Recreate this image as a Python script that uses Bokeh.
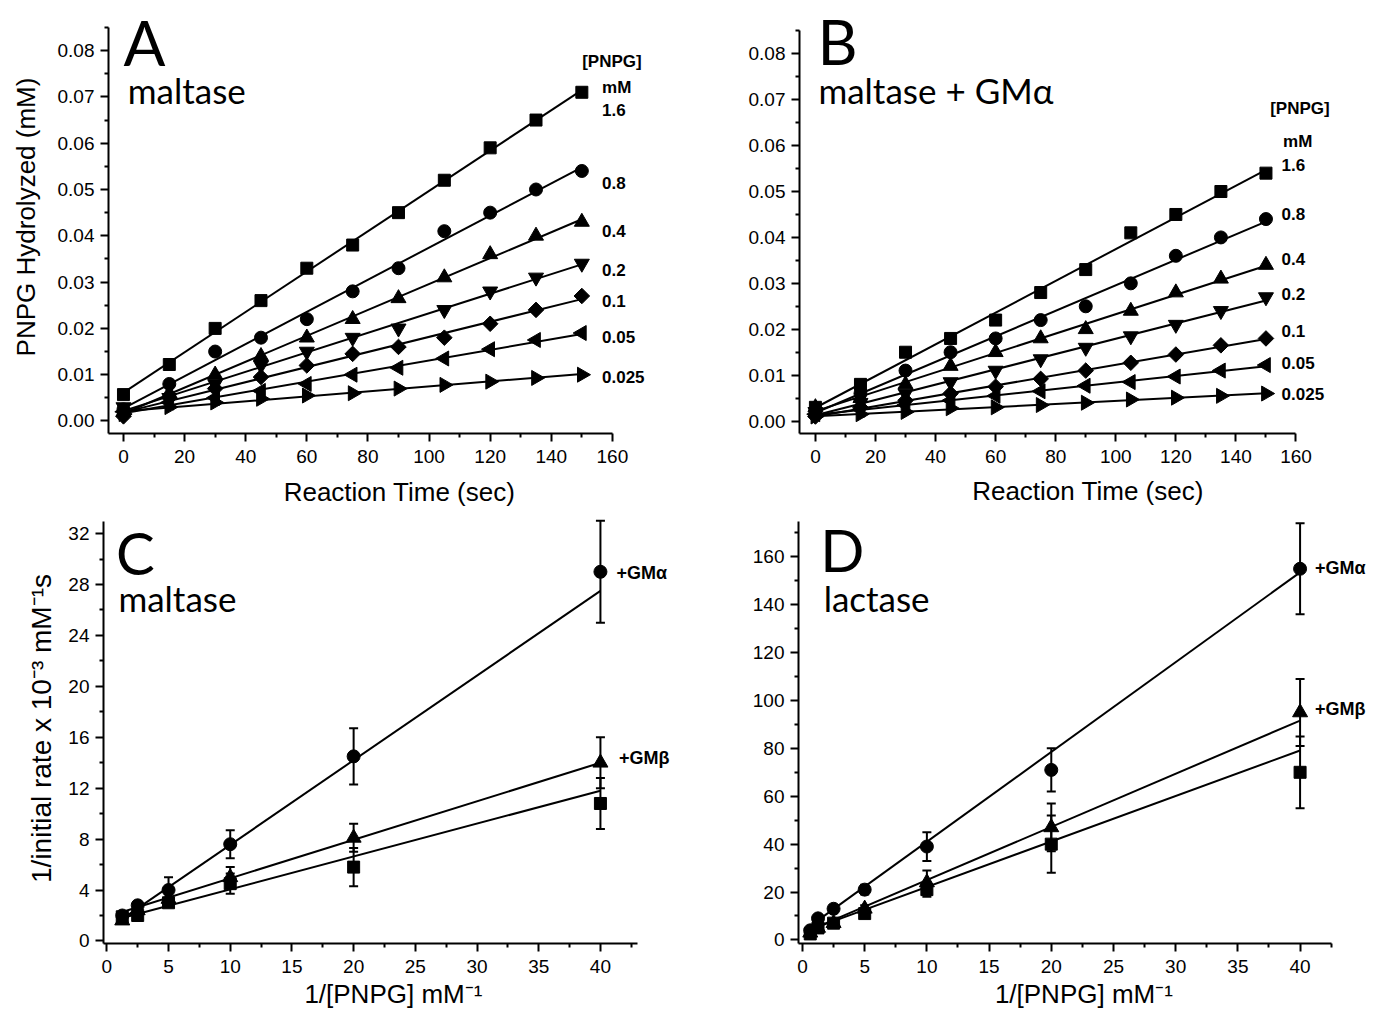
import numpy as np
from bokeh.plotting import figure
from bokeh.models import (Range1d, FixedTicker, NumeralTickFormatter, Label,
                          Whisker, TeeHead, ColumnDataSource, LinearAxis)
from bokeh.layouts import row, column
from bokeh.embed import file_html
from bokeh.resources import INLINE

# ---------------- data ----------------
time_s = [0, 15, 30, 45, 60, 75, 90, 105, 120, 135, 150]
pnpg_mM = ["1.6", "0.8", "0.4", "0.2", "0.1", "0.05", "0.025"]

# Panel A: maltase (PNPG hydrolyzed, mM)
a_16 = [0.0057, 0.0122, 0.0200, 0.0260, 0.0330, 0.0380, 0.0450, 0.0520, 0.0590, 0.0650, 0.0710]
a_08 = [0.0025, 0.0080, 0.0150, 0.0180, 0.0220, 0.0280, 0.0330, 0.0410, 0.0450, 0.0500, 0.0540]
a_04 = [0.0020, 0.0060, 0.0100, 0.0140, 0.0180, 0.0220, 0.0265, 0.0310, 0.0360, 0.0400, 0.0430]
a_02 = [0.0030, 0.0050, 0.0080, 0.0120, 0.0150, 0.0180, 0.0200, 0.0240, 0.0280, 0.0310, 0.0340]
a_01 = [0.0010, 0.0050, 0.0070, 0.0095, 0.0120, 0.0145, 0.0160, 0.0180, 0.0210, 0.0240, 0.0270]
a_005 = [0.0020, 0.0040, 0.0050, 0.0065, 0.0080, 0.0100, 0.0115, 0.0135, 0.0155, 0.0175, 0.0190]
a_0025 = [0.0015, 0.0030, 0.0040, 0.0048, 0.0055, 0.0060, 0.0070, 0.0078, 0.0085, 0.0093, 0.0100]

# Panel B: maltase + GM-alpha
b_16 = [0.0030, 0.0080, 0.0150, 0.0180, 0.0220, 0.0280, 0.0330, 0.0410, 0.0450, 0.0500, 0.0540]
b_08 = [0.0020, 0.0060, 0.0110, 0.0150, 0.0180, 0.0220, 0.0250, 0.0300, 0.0360, 0.0400, 0.0440]
b_04 = [0.0030, 0.0050, 0.0080, 0.0120, 0.0150, 0.0180, 0.0200, 0.0240, 0.0280, 0.0310, 0.0340]
b_02 = [0.0020, 0.0040, 0.0060, 0.0085, 0.0110, 0.0135, 0.0160, 0.0185, 0.0210, 0.0240, 0.0270]
b_01 = [0.0010, 0.0030, 0.0045, 0.0060, 0.0075, 0.0092, 0.0110, 0.0127, 0.0145, 0.0165, 0.0180]
b_005 = [0.0015, 0.0025, 0.0035, 0.0045, 0.0055, 0.0065, 0.0077, 0.0085, 0.0097, 0.0110, 0.0122]
b_0025 = [0.0010, 0.0015, 0.0020, 0.0028, 0.0030, 0.0035, 0.0040, 0.0047, 0.0051, 0.0055, 0.0060]

# Panel C: maltase, Lineweaver-Burk
c_x = [1.25, 2.5, 5, 10, 20, 40]
c_gma = [2.0, 2.8, 4.0, 7.6, 14.5, 29.0]
c_gma_err = [0.2, 0.3, 1.0, 1.1, 2.2, 4.0]
c_gmb = [1.6, 2.4, 3.3, 5.0, 8.1, 14.0]
c_gmb_err = [0.2, 0.2, 0.4, 0.8, 1.1, 2.0]
c_ctrl = [1.9, 2.0, 3.0, 4.5, 5.8, 10.8]
c_ctrl_err = [0.2, 0.2, 0.3, 0.8, 1.5, 2.0]
c_fit_slope = [0.665, 0.3025, 0.258]
c_fit_intercept = [0.9, 1.9, 1.48]

# Panel D: lactase, Lineweaver-Burk
d_x = [0.625, 1.25, 2.5, 5, 10, 20, 40]
d_gma = [4, 9, 13, 21, 39, 71, 155]
d_gma_err = [1, 1, 1, 2, 6, 9, 19]
d_gmb = [3, 5, 7, 13, 24, 47, 95]
d_gmb_err = [1, 1, 1, 1.5, 5, 10, 14]
d_ctrl = [2.5, 5, 7, 11, 21, 40, 70]
d_ctrl_err = [1, 1, 1, 1, 3, 12, 15]
d_fit_slope = [3.75, 2.22, 1.9]
d_fit_intercept = [3.5, 2.8, 3.1]

# ticks
ab_xticks = [0, 20, 40, 60, 80, 100, 120, 140, 160]
ab_xminor = [10, 30, 50, 70, 90, 110, 130, 150]
ab_yticks = [0.0, 0.01, 0.02, 0.03, 0.04, 0.05, 0.06, 0.07, 0.08]
ab_yminor = [0.005, 0.015, 0.025, 0.035, 0.045, 0.055, 0.065, 0.075, 0.085]
cd_xticks = [0, 5, 10, 15, 20, 25, 30, 35, 40]
cd_xminor = [2.5, 7.5, 12.5, 17.5, 22.5, 27.5, 32.5, 37.5, 42.5]
c_yticks = [0, 4, 8, 12, 16, 20, 24, 28, 32]
c_yminor = [2, 6, 10, 14, 18, 22, 26, 30]
d_yticks = [0, 20, 40, 60, 80, 100, 120, 140, 160]
d_yminor = [10, 30, 50, 70, 90, 110, 130, 150, 170]

# ---------------- styling ----------------
TICK_FONT = "Liberation Sans"
LETTER_FONT = "Lato"
markers = ["square", "circle", "triangle", "inverted_triangle", "square", "triangle", "triangle"]
angles = [0, 0, 0, 0, np.pi / 4, np.pi / 2, -np.pi / 2]
sizes = [12, 13, 15, 15, 11, 15, 15]


def make_fig(canvas, frame_left, frame_bottom, xstart, xscale, ystart, yscale,
             xbounds, ybounds, xticks, xminor, yticks, yminor,
             xlabel, ylabel, xlabel_standoff, ylabel_standoff, yfmt=None):
    cx, cy, w, h = canvas
    bl = frame_left - cx
    bb = cy + h - frame_bottom
    fw = w - bl
    fh = frame_bottom - cy
    p = figure(width=w, height=h, output_backend="svg", toolbar_location=None,
               x_range=Range1d(xstart, xstart + fw / xscale),
               y_range=Range1d(ystart, ystart + fh / yscale),
               min_border_left=bl, min_border_right=0,
               min_border_top=0, min_border_bottom=bb)
    p.outline_line_color = None
    p.background_fill_color = "white"
    p.border_fill_color = "white"
    p.xgrid.visible = False
    p.ygrid.visible = False
    for ax in (p.xaxis[0], p.yaxis[0]):
        ax.axis_line_width = 2
        ax.axis_line_color = "black"
        ax.major_tick_line_width = 2
        ax.major_tick_line_color = "black"
        ax.minor_tick_line_width = 2
        ax.minor_tick_line_color = "black"
        ax.major_tick_out = 8
        ax.major_tick_in = 0
        ax.minor_tick_out = 4
        ax.minor_tick_in = 0
        ax.major_label_text_font = TICK_FONT
        ax.major_label_text_font_size = "19px"
        ax.major_label_text_color = "black"
        ax.axis_label_text_font = TICK_FONT
        ax.axis_label_text_font_size = "26px"
        ax.axis_label_text_font_style = "normal"
        ax.axis_label_text_color = "black"
    p.xaxis[0].bounds = xbounds
    p.yaxis[0].bounds = ybounds
    p.xaxis[0].ticker = FixedTicker(ticks=xticks, minor_ticks=xminor)
    p.yaxis[0].ticker = FixedTicker(ticks=yticks, minor_ticks=yminor)
    p.xaxis[0].major_label_standoff = 8
    p.yaxis[0].major_label_standoff = 6
    if xlabel:
        p.xaxis[0].axis_label = xlabel
        p.xaxis[0].axis_label_standoff = xlabel_standoff
    if ylabel:
        p.yaxis[0].axis_label = ylabel
        p.yaxis[0].axis_label_standoff = ylabel_standoff
    if yfmt:
        p.yaxis[0].formatter = NumeralTickFormatter(format=yfmt)
    return p


def add_label(p, x, y, text, font, size, bold=False):
    p.add_layout(Label(x=x, y=y, text=text, text_font=font,
                       text_font_size=size, text_color="black",
                       text_font_style="bold" if bold else "normal",
                       text_baseline="middle", text_align="left"))


def time_course(p, series):
    for ys in series:
        k, b = np.polyfit(time_s, ys, 1)
        xs = [min(time_s), max(time_s)]
        p.line(xs, [b + k * x for x in xs], line_color="black", line_width=2)
    for ys, m, ang, sz in zip(series, markers, angles, sizes):
        p.scatter(time_s, ys, marker=m, angle=ang, size=sz,
                  fill_color="black", line_color="black")


def lwb(p, x, series, errs, mks, slopes, intercepts):
    xs = [min(x), max(x)]
    for k, b in zip(slopes, intercepts):
        p.line(xs, [b + k * v for v in xs], line_color="black", line_width=2)
    for ys, er, (m, sz) in zip(series, errs, mks):
        src = ColumnDataSource(dict(x=x, y=ys,
                                    lo=[a - e for a, e in zip(ys, er)],
                                    hi=[a + e for a, e in zip(ys, er)]))
        p.add_layout(Whisker(base="x", upper="hi", lower="lo", source=src,
                             line_color="black", line_width=2,
                             upper_head=TeeHead(size=9, line_width=2, line_color="black"),
                             lower_head=TeeHead(size=9, line_width=2, line_color="black")))
        p.scatter(x, ys, marker=m, size=sz, fill_color="black", line_color="black")


# ---------------- Panel A ----------------
pA = make_fig((0, 0, 690, 513), 108, 433, -4.9, 3.0558, -0.0027, 4630,
              (-4.9, 160), (-0.0027, 0.085),
              ab_xticks, ab_xminor, ab_yticks, ab_yminor,
              "Reaction Time (sec)", "PNPG Hydrolyzed (mM)", 11, 14, yfmt="0.00")
time_course(pA, [a_16, a_08, a_04, a_02, a_01, a_005, a_0025])
add_label(pA, 0.0, 0.0819, "A", LETTER_FONT, "62px")
add_label(pA, 1.4, 0.0714, "maltase", LETTER_FONT, "35px")
a_lab_y = [0.0672, 0.0514, 0.0411, 0.0327, 0.0260, 0.0181, 0.0095]
add_label(pA, 150.1, 0.0776, "[PNPG]", TICK_FONT, "17px", True)
add_label(pA, 156.6, 0.0720, "mM", TICK_FONT, "17px", True)
for t, yv in zip(pnpg_mM, a_lab_y):
    add_label(pA, 156.6, yv, t, TICK_FONT, "17px", True)

# ---------------- Panel B ----------------
pB = make_fig((690, 0, 686, 513), 799, 435, -5.3, 3.0036, -0.0027, 4613,
              (-5.3, 160), (-0.0027, 0.0851),
              ab_xticks, ab_xminor, ab_yticks, ab_yminor,
              None, None, 0, 0, yfmt="0.00")
b_xlab = LinearAxis(axis_label="Reaction Time (sec)", bounds=(17.8, 160),
                    ticker=FixedTicker(ticks=[]), axis_line_color=None,
                    major_tick_out=0, major_tick_in=0, minor_tick_out=0, minor_tick_in=0,
                    major_label_standoff=0, major_label_text_font_size="0px",
                    axis_label_standoff=10, axis_label_text_font=TICK_FONT,
                    axis_label_text_font_size="26px", axis_label_text_font_style="normal",
                    axis_label_text_color="black")
pB.add_layout(b_xlab, "below")
time_course(pB, [b_16, b_08, b_04, b_02, b_01, b_005, b_0025])
add_label(pB, 0.7, 0.0827, "B", LETTER_FONT, "62px")
add_label(pB, 1.0, 0.0722, "maltase + GMα", LETTER_FONT, "35px")
b_lab_y = [0.0557, 0.0450, 0.0354, 0.0277, 0.0196, 0.0127, 0.0060]
add_label(pB, 151.4, 0.0681, "[PNPG]", TICK_FONT, "17px", True)
add_label(pB, 155.7, 0.0609, "mM", TICK_FONT, "17px", True)
for t, yv in zip(pnpg_mM, b_lab_y):
    add_label(pB, 155.2, yv, t, TICK_FONT, "17px", True)

# ---------------- Panel C ----------------
lwb_markers = [("circle", 13), ("triangle", 15), ("square", 12)]
pC = make_fig((0, 513, 690, 505), 103, 943, -0.27, 12.34, -0.2, 12.73,
              (-0.27, 43), (-0.2, 32.94),
              cd_xticks, cd_xminor, c_yticks, c_yminor,
              "1/[PNPG]  mM⁻¹", "1/initial rate x 10⁻³ mM⁻¹s", 3, 8)
pC.yaxis[0].axis_label_text_font_size = "28px"
lwb(pC, c_x, [c_gma, c_gmb, c_ctrl], [c_gma_err, c_gmb_err, c_ctrl_err],
    lwb_markers, c_fit_slope, c_fit_intercept)
add_label(pC, 0.75, 30.5, "C", LETTER_FONT, "58px")
add_label(pC, 0.94, 26.94, "maltase", LETTER_FONT, "35px")
add_label(pC, 41.3, 28.9, "+GMα", TICK_FONT, "18px", True)
add_label(pC, 41.5, 14.4, "+GMβ", TICK_FONT, "18px", True)

# ---------------- Panel D ----------------
pD = make_fig((690, 513, 686, 505), 798, 944, -0.32, 12.44, -1.5, 2.4,
              (-0.32, 42.5), (-1.5, 174.7),
              cd_xticks, cd_xminor, d_yticks, d_yminor,
              "1/[PNPG]  mM⁻¹", None, 3, 0)
lwb(pD, d_x, [d_gma, d_gmb, d_ctrl], [d_gma_err, d_gmb_err, d_ctrl_err],
    lwb_markers, d_fit_slope, d_fit_intercept)
add_label(pD, 1.42, 163.1, "D", LETTER_FONT, "58px")
add_label(pD, 1.7, 142.6, "lactase", LETTER_FONT, "35px")
add_label(pD, 41.2, 155.5, "+GMα", TICK_FONT, "18px", True)
add_label(pD, 41.2, 96.5, "+GMβ", TICK_FONT, "18px", True)

layout = column(row(pA, pB), row(pC, pD))
open("out.html", "w").write(file_html(layout, INLINE))
